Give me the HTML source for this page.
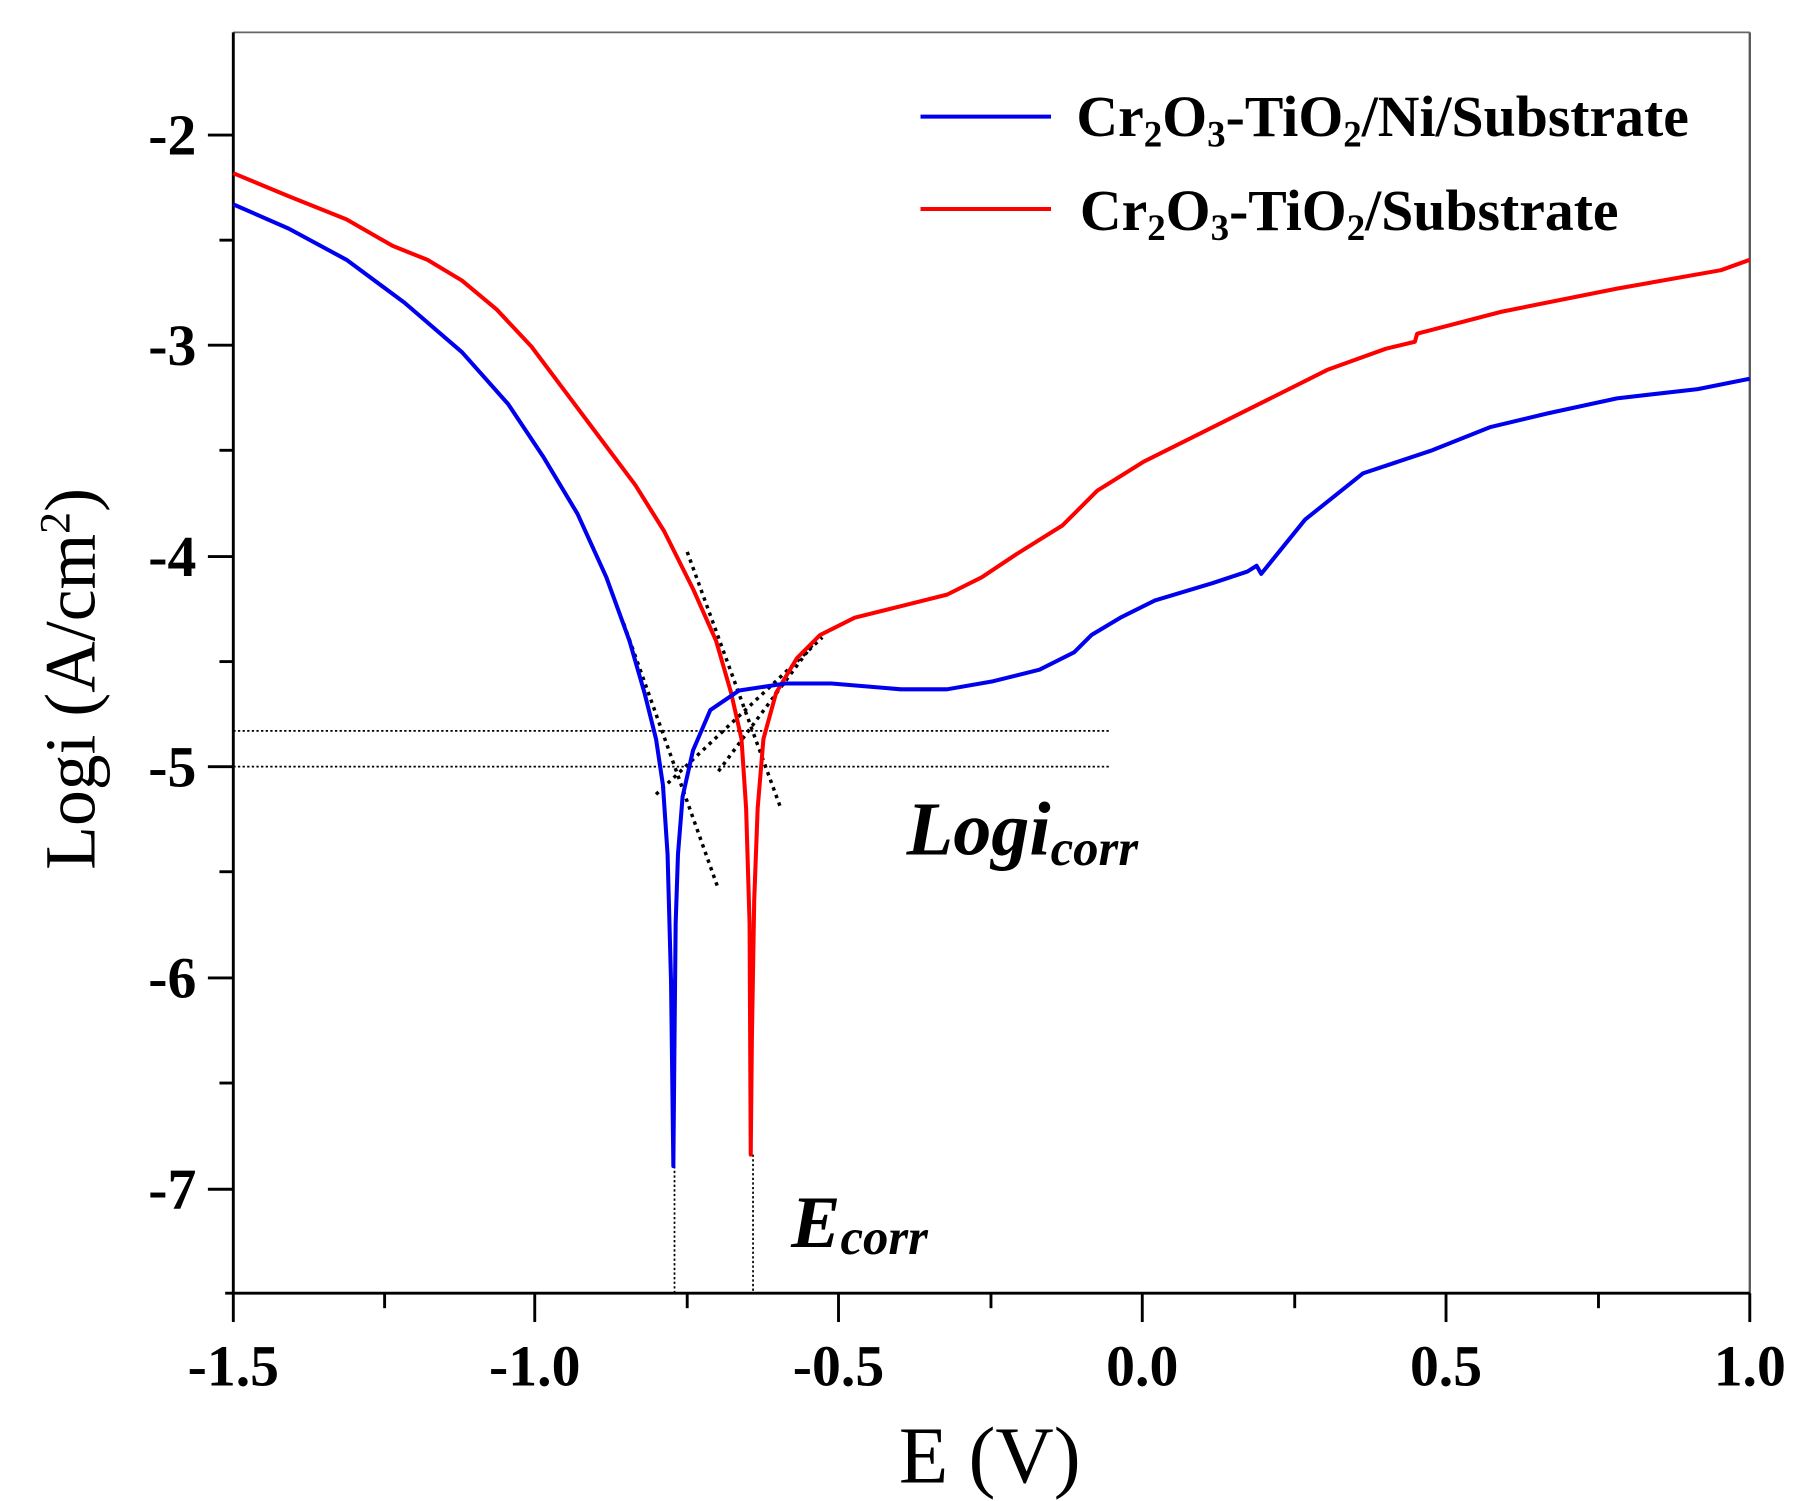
<!DOCTYPE html>
<html><head><meta charset="utf-8"><style>html,body{margin:0;padding:0;background:#fff}svg{display:block}</style></head>
<body>
<svg width="1811" height="1501" viewBox="0 0 1568 1300" preserveAspectRatio="none" xmlns="http://www.w3.org/2000/svg" font-family="Liberation Serif, serif">
<rect width="1568" height="1300" fill="#fff"/>
<line x1="202" y1="28" x2="1515" y2="28" stroke="#666" stroke-width="1.5"/>
<line x1="1515" y1="28" x2="1515" y2="1120" stroke="#555" stroke-width="2"/>
<line x1="202" y1="28" x2="202" y2="1121" stroke="#000" stroke-width="2.5"/>
<line x1="195" y1="1120" x2="1515" y2="1120" stroke="#000" stroke-width="2.5"/>
<g stroke="#000" stroke-width="2.5">
<line x1="202" y1="1120" x2="202" y2="1145"/><line x1="463" y1="1120" x2="463" y2="1145"/><line x1="726" y1="1120" x2="726" y2="1145"/><line x1="989" y1="1120" x2="989" y2="1145"/><line x1="1252" y1="1120" x2="1252" y2="1145"/><line x1="1515" y1="1120" x2="1515" y2="1145"/>
<line x1="333" y1="1120" x2="333" y2="1133"/><line x1="595" y1="1120" x2="595" y2="1133"/><line x1="858" y1="1120" x2="858" y2="1133"/><line x1="1121" y1="1120" x2="1121" y2="1133"/><line x1="1384" y1="1120" x2="1384" y2="1133"/>
<line x1="180" y1="117" x2="202" y2="117"/><line x1="180" y1="299" x2="202" y2="299"/><line x1="180" y1="482" x2="202" y2="482"/><line x1="180" y1="664" x2="202" y2="664"/><line x1="180" y1="847" x2="202" y2="847"/><line x1="180" y1="1030" x2="202" y2="1030"/>
<line x1="190" y1="208" x2="202" y2="208"/><line x1="190" y1="390" x2="202" y2="390"/><line x1="190" y1="573" x2="202" y2="573"/><line x1="190" y1="755" x2="202" y2="755"/><line x1="190" y1="938" x2="202" y2="938"/>
</g>
<g font-weight="bold" font-size="50" fill="#000">
<g text-anchor="middle">
<text x="202" y="1200">-1.5</text><text x="463" y="1200">-1.0</text><text x="726" y="1200">-0.5</text><text x="989" y="1200">0.0</text><text x="1252" y="1200">0.5</text><text x="1515" y="1200">1.0</text>
</g>
<g text-anchor="end">
<text x="170" y="134">-2</text><text x="170" y="316">-3</text><text x="170" y="499">-4</text><text x="170" y="681">-5</text><text x="170" y="864">-6</text><text x="170" y="1047">-7</text>
</g>
</g>
<text x="857" y="1284" text-anchor="middle" font-size="70">E (V)</text>
<text transform="translate(82,588) rotate(-90)" text-anchor="middle" font-size="62">Logi (A/cm<tspan font-size="38" dy="-22">2</tspan><tspan dy="22">)</tspan></text>
<g stroke="#000" stroke-width="1.5" stroke-dasharray="2,2" fill="none">
<line x1="202" y1="633" x2="962" y2="633"/><line x1="202" y1="664" x2="962" y2="664"/>
<line x1="584" y1="1010" x2="584" y2="1120"/><line x1="652" y1="1000" x2="652" y2="1120"/>
</g>
<g stroke="#000" stroke-width="3" stroke-dasharray="3,4" fill="none">
<line x1="540" y1="540" x2="622" y2="770"/><line x1="568" y1="688" x2="712" y2="552"/>
<line x1="595" y1="478" x2="676" y2="700"/><line x1="622" y1="668" x2="706" y2="555"/>
</g>
<polyline fill="none" stroke="#ff0000" stroke-width="3.5" stroke-linejoin="round" points="202,150 250,170 300,190 340,213 370,225 400,243 430,268 460,300 490,340 520,380 550,420 575,460 600,510 620,555 633,600 642,640 646,700 649,800 650,1000 651,900 653,780 656,700 661,640 672,600 690,570 710,550 740,535 780,525 820,515 850,500 880,480 920,455 950,425 990,400 1050,370 1100,345 1150,320 1200,302 1225,296 1227,289 1300,270 1400,250 1490,234 1515,225"/>
<polyline fill="none" stroke="#0000ee" stroke-width="3.5" stroke-linejoin="round" points="202,177 250,198 300,225 350,262 400,305 440,350 470,395 500,445 525,500 545,555 558,600 568,640 574,680 578,740 581,850 583,1010 584,900 585,800 587,740 591,690 600,650 615,615 640,598 680,592 720,592 780,597 820,597 860,590 900,580 930,565 945,550 970,535 1000,520 1050,505 1080,495 1088,490 1092,497 1130,450 1180,410 1240,390 1290,370 1340,358 1400,345 1470,337 1515,328"/>
<line x1="797" y1="101" x2="910" y2="101" stroke="#0000ee" stroke-width="3.5"/>
<line x1="797" y1="181" x2="910" y2="181" stroke="#ff0000" stroke-width="3.5"/>
<g font-weight="bold" font-size="50">
<text x="932" y="118">Cr<tspan font-size="32" dy="9">2</tspan><tspan dy="-9">O</tspan><tspan font-size="32" dy="9">3</tspan><tspan dy="-9">-TiO</tspan><tspan font-size="32" dy="9">2</tspan><tspan dy="-9">/Ni/Substrate</tspan></text>
<text x="935" y="199">Cr<tspan font-size="32" dy="9">2</tspan><tspan dy="-9">O</tspan><tspan font-size="32" dy="9">3</tspan><tspan dy="-9">-TiO</tspan><tspan font-size="32" dy="9">2</tspan><tspan dy="-9">/Substrate</tspan></text>
</g>
<g font-weight="bold" font-style="italic">
<text x="785" y="740" font-size="66">Logi<tspan font-size="44" dy="9">corr</tspan></text>
<text x="685" y="1080" font-size="64">E<tspan font-size="44" dy="6">corr</tspan></text>
</g>
</svg>
</body></html>
